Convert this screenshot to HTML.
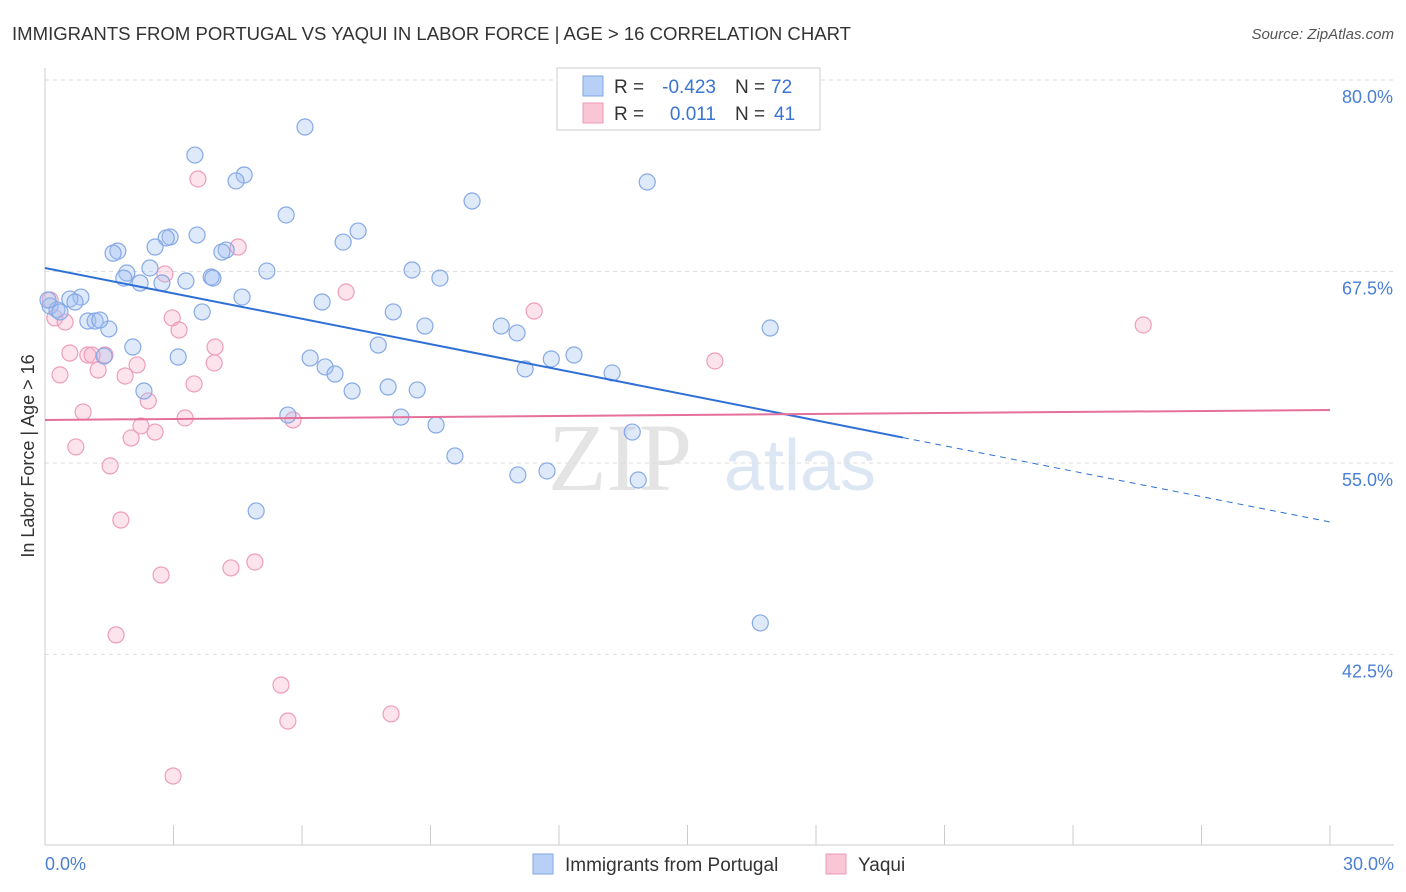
<!DOCTYPE html>
<html><head><meta charset="utf-8">
<style>
body{margin:0;background:#fff;font-family:"Liberation Sans",sans-serif;}
#c{position:relative;width:1406px;height:892px;overflow:hidden;}
</style></head>
<body>
<div id="c">
<svg id="svg" width="1406" height="892" xmlns="http://www.w3.org/2000/svg">
<text x="12" y="40" font-size="18" fill="#333" textLength="839" lengthAdjust="spacingAndGlyphs">IMMIGRANTS FROM PORTUGAL VS YAQUI IN LABOR FORCE | AGE &gt; 16 CORRELATION CHART</text>
<text x="1394" y="39" font-size="15" fill="#555" font-style="italic" text-anchor="end">Source: ZipAtlas.com</text>
<text x="620" y="490" font-size="96" fill="#e4e4e4" font-family="Liberation Serif" text-anchor="middle">ZIP</text>
<text x="800" y="490" font-size="72" fill="#dde6f3" text-anchor="middle">atlas</text>
<g id="grid"></g>
<g id="axes"></g>
<g id="pts"></g>
<g id="lines"></g>
<text transform="translate(34,456) rotate(-90)" font-size="18" fill="#333" text-anchor="middle">In Labor Force | Age &gt; 16</text>
<text x="45" y="870" font-size="18" fill="#4a7fd4">0.0%</text>
<text x="1394" y="870" font-size="18" fill="#4a7fd4" text-anchor="end">30.0%</text>
<g>
<rect x="557" y="68" width="263" height="62" fill="#fff" stroke="#ccc"/>
<rect x="583" y="76" width="20" height="20" fill="#b8d0f5" stroke="#7fa6e6"/>
<rect x="583" y="103" width="20" height="20" fill="#f9c6d6" stroke="#eb9bb8"/>
<text x="614" y="93" font-size="19" fill="#333">R =</text>
<text x="716" y="93" font-size="19" fill="#3a73d0" text-anchor="end">-0.423</text>
<text x="735" y="93" font-size="19" fill="#333">N =</text>
<text x="771" y="93" font-size="19" fill="#3a73d0">72</text>
<text x="614" y="120" font-size="19" fill="#333">R =</text>
<text x="716" y="120" font-size="19" fill="#3a73d0" text-anchor="end">0.011</text>
<text x="735" y="120" font-size="19" fill="#333">N =</text>
<text x="774" y="120" font-size="19" fill="#3a73d0">41</text>
</g>
<g>
<rect x="533" y="854" width="20" height="20" fill="#b8d0f5" stroke="#7fa6e6"/>
<text x="565" y="871" font-size="19" fill="#333">Immigrants from Portugal</text>
<rect x="826" y="854" width="20" height="20" fill="#f9c6d6" stroke="#eb9bb8"/>
<text x="858" y="871" font-size="19" fill="#333">Yaqui</text>
</g>
</svg>
</div>
<script>
const yTicks=[80,67.5,55,42.5];
const yTickLabels=["80.0%","67.5%","55.0%","42.5%"];
const xTicks=[0,3,6,9,12,15,18,21,24,27,30];
const blueX=[6.07,3.50,4.65,4.46,14.06,9.97,5.63,7.31,3.55,2.92,2.83,6.96,2.57,1.70,1.59,4.23,4.13,5.18,8.57,2.45,1.91,1.84,3.88,3.92,9.22,3.29,2.73,2.22,4.60,0.84,0.58,0.70,6.47,3.67,8.13,0.12,0.28,1.00,1.17,8.87,1.49,10.65,11.02,16.93,7.78,2.05,12.35,11.82,6.19,3.11,1.38,6.54,11.21,13.24,6.77,8.01,8.69,7.17,2.31,8.31,5.67,9.13,13.71,9.57,11.04,11.72,13.85,4.93,16.70,0.07,0.35,1.28];
const blueY=[76.93,75.10,73.80,73.41,73.34,72.10,71.19,70.14,69.88,69.75,69.69,69.42,69.10,68.83,68.70,68.90,68.77,67.53,67.60,67.73,67.40,67.07,67.14,67.07,67.07,66.88,66.75,66.75,65.83,65.83,65.70,65.51,65.51,64.86,64.86,65.25,65.0,64.27,64.27,63.94,63.75,63.94,63.49,63.81,62.70,62.57,62.05,61.79,61.85,61.92,61.98,61.27,61.14,60.88,60.81,59.96,59.77,59.70,59.70,58.0,58.13,57.48,57.02,55.46,54.22,54.48,53.89,51.87,44.56,65.64,64.86,64.33];
const pinkX=[3.57,4.51,2.80,7.03,11.42,25.64,2.97,0.23,0.47,3.13,3.97,0.58,1.00,1.40,1.10,3.95,15.64,2.15,1.24,0.35,1.87,3.48,2.41,0.89,3.27,5.79,2.24,2.57,2.01,0.72,1.52,1.77,2.71,4.34,4.90,1.66,5.51,8.08,5.67,2.99,0.12];
const pinkY=[73.54,69.10,67.34,66.16,64.92,64.01,64.47,64.47,64.20,63.68,62.57,62.18,62.05,62.05,62.05,61.53,61.66,61.40,61.07,60.75,60.68,60.16,59.05,58.33,57.94,57.81,57.42,57.02,56.63,56.05,54.81,51.28,47.69,48.15,48.54,43.78,40.51,38.62,38.16,34.57,65.64];
const blueTrend=[67.73,51.15];
const blueSolidEnd=20.03;
const pinkTrend=[57.81,58.46];

const NS="http://www.w3.org/2000/svg";
const X=v=>45+v/30*1285;
const Y=v=>80+(80-v)*15.32;
function mk(tag,attrs,parent){const e=document.createElementNS(NS,tag);for(const k in attrs)e.setAttribute(k,attrs[k]);document.getElementById(parent).appendChild(e);return e;}
yTicks.forEach((t,i)=>{
 const l=mk('line',{x1:45,x2:1394,y1:Y(t),y2:Y(t),stroke:'#ddd','stroke-dasharray':'4,4'},'grid');
 
 
 const tx=mk('text',{x:1393,y:Y(t)+23,'font-size':18,fill:'#4a7fd4','text-anchor':'end'},'grid');
 tx.textContent=yTickLabels[i];
 
 
});
const ax=mk('line',{x1:45,x2:45,y1:68,y2:845,stroke:'#ccc'},'axes');


const bx=mk('line',{x1:45,x2:1394,y1:845,y2:845,stroke:'#ccc'},'axes');


xTicks.forEach(t=>{
 const l=mk('line',{x1:X(t),x2:X(t),y1:825,y2:845,stroke:'#ccc'},'axes');
 
 
});
function pts(xs,ys,fill,stroke,name){
 xs.forEach((x,i)=>{
  const c=mk('circle',{cx:X(x),cy:Y(ys[i]),r:8,fill:fill,stroke:stroke,'stroke-width':1.2},'pts');
  
  
 });
}
pts(pinkX,pinkY,'rgba(246,175,200,0.35)','#ee9dbb','yaqui-point');
pts(blueX,blueY,'rgba(160,192,242,0.35)','#86a9e6','portugal-point');
const by=x=>blueTrend[0]+(blueTrend[1]-blueTrend[0])*x/30;
const l1=mk('line',{x1:X(0),y1:Y(blueTrend[0]),x2:X(blueSolidEnd),y2:Y(by(blueSolidEnd)),stroke:'#2f6fd6','stroke-width':2},'lines');


const l2=mk('line',{x1:X(blueSolidEnd),y1:Y(by(blueSolidEnd)),x2:X(30),y2:Y(blueTrend[1]),stroke:'#2f6fd6','stroke-width':1,'stroke-dasharray':'6,5'},'lines');


const l3=mk('line',{x1:X(0),y1:Y(pinkTrend[0]),x2:X(30),y2:Y(pinkTrend[1]),stroke:'#e5709b','stroke-width':2},'lines');


</script>
</body></html>
